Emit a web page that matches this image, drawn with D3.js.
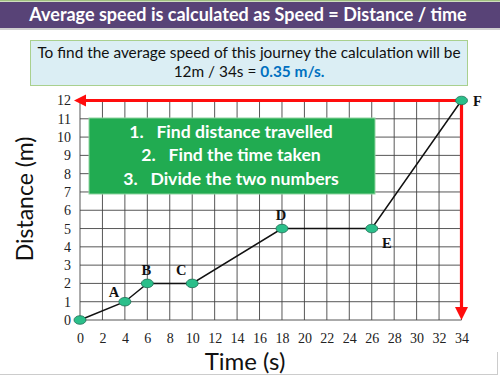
<!DOCTYPE html>
<html><head><meta charset="utf-8">
<script src="https://cdn.jsdelivr.net/npm/d3@7"></script>
<style>body{margin:0;background:#fff}svg{display:block}</style>
</head><body>
<script>
const times = [0, 4, 6, 10, 18, 26, 34];
const distances = [0, 1, 2, 2, 5, 5, 12];
const pointLabels = ["", "A", "B", "C", "D", "E", "F"];
const xTicks = d3.range(0, 35, 2);
const yTicks = d3.range(0, 13, 1);
const steps = ["1.   Find distance travelled", "2.   Find the time taken", "3.   Divide the two numbers"];

const W = 500, H = 377;
const svg = d3.select("body").append("svg").attr("width", W).attr("height", H);
const sans = "Lato, 'Open Sans', sans-serif";
const serif = "'Liberation Serif', 'DejaVu Serif', serif";

// frame lines
svg.append("rect").attr("x", 0).attr("y", 0).attr("width", W).attr("height", 1.5).attr("fill", "#9fbf80");
svg.append("line").attr("x1", 0).attr("x2", 498).attr("y1", 374.5).attr("y2", 374.5).attr("stroke", "#ccc");
svg.append("line").attr("x1", 497.5).attr("x2", 497.5).attr("y1", 352).attr("y2", 375).attr("stroke", "#ccc");

// title banner
svg.append("rect").attr("x", 0).attr("y", 28).attr("width", W).attr("height", 2).attr("fill", "#cfcfcf");
svg.append("rect").attr("x", 0).attr("y", 2).attr("width", W).attr("height", 26).attr("fill", "#584377");
svg.append("text").attr("x", 248).attr("y", 20.5).attr("text-anchor", "middle")
  .attr("font-family", sans).attr("font-weight", "bold").attr("font-size", 18).attr("fill", "#fff")
  .text("Average speed is calculated as Speed = Distance / time");

// info box
svg.append("rect").attr("x", 30.5).attr("y", 40.5).attr("width", 437).attr("height", 45)
  .attr("fill", "#dbeef4").attr("stroke", "#a9d08e").attr("stroke-width", 1);
svg.append("text").attr("x", 249).attr("y", 58).attr("text-anchor", "middle")
  .attr("font-family", sans).attr("font-size", 15.4).attr("fill", "#111")
  .text("To find the average speed of this journey the calculation will be");
const t2 = svg.append("text").attr("x", 249).attr("y", 77).attr("text-anchor", "middle")
  .attr("font-family", sans).attr("font-size", 15.4).attr("fill", "#111");
t2.append("tspan").text("12m / 34s = ");
t2.append("tspan").attr("fill", "#0070c0").attr("font-weight", "bold").text("0.35 m/s.");

// scales
const x = d3.scaleLinear().domain([0, 34]).range([80, 461.5]);
const y = d3.scaleLinear().domain([0, 12]).range([320, 100.5]);

// grid
const g = svg.append("g");
g.selectAll("line.v").data(xTicks).join("line")
  .attr("x1", d => x(d)).attr("x2", d => x(d)).attr("y1", y(12)).attr("y2", y(0))
  .attr("stroke", "#444").attr("stroke-width", 0.9);
g.selectAll("line.h").data(yTicks).join("line")
  .attr("x1", x(0)).attr("x2", x(34)).attr("y1", d => y(d)).attr("y2", d => y(d))
  .attr("stroke", "#444").attr("stroke-width", 0.9);

// axes tick labels
const xAxis = svg.append("g").attr("transform", `translate(0,${y(0)})`)
  .call(d3.axisBottom(x).tickValues(xTicks).tickSize(0).tickPadding(13));
xAxis.select(".domain").remove();
xAxis.selectAll("text").attr("font-family", serif).attr("font-size", 14).attr("fill", "#222");
const yAxis = svg.append("g").attr("transform", `translate(${x(0)},0)`)
  .call(d3.axisLeft(y).tickValues(yTicks).tickSize(0).tickPadding(9));
yAxis.select(".domain").remove();
yAxis.selectAll("text").attr("font-family", serif).attr("font-size", 14).attr("fill", "#222");

// axis titles
svg.append("text").attr("x", 245).attr("y", 370).attr("text-anchor", "middle")
  .attr("font-family", sans).attr("font-size", 24).attr("fill", "#111").text("Time (s)");
svg.append("text").attr("transform", "translate(33,199) rotate(-90)").attr("text-anchor", "middle")
  .attr("font-family", sans).attr("font-size", 23).attr("fill", "#111").text("Distance (m)");

// data line
const pts = times.map((t, i) => ({t, d: distances[i], l: pointLabels[i]}));
svg.append("path").datum(pts)
  .attr("d", d3.line().x(p => x(p.t)).y(p => y(p.d)))
  .attr("fill", "none").attr("stroke", "#111").attr("stroke-width", 1.5);

// green steps box
svg.append("rect").attr("x", 89).attr("y", 118).attr("width", 286).attr("height", 76)
  .attr("fill", "#21ab51").attr("stroke", "#8fd3a0").attr("stroke-width", 1);
const stepY = [137.5, 161, 184.5];
steps.forEach((s, i) => {
  svg.append("text").attr("x", 231).attr("y", stepY[i]).attr("text-anchor", "middle")
    .attr("font-family", sans).attr("font-weight", "bold").attr("font-size", 17.6).attr("fill", "#fff")
    .attr("xml:space", "preserve").style("white-space", "pre").text(s);
});

// red arrows
const red = "#ff0d0d";
svg.append("line").attr("x1", x(34)).attr("x2", 84).attr("y1", y(12)).attr("y2", y(12))
  .attr("stroke", red).attr("stroke-width", 3.2);
svg.append("path").attr("d", `M74,${y(12)} L86,${y(12) - 6} L86,${y(12) + 6} Z`).attr("fill", red);
svg.append("line").attr("x1", x(34)).attr("x2", x(34)).attr("y1", y(12)).attr("y2", 308)
  .attr("stroke", red).attr("stroke-width", 3.2);
svg.append("path").attr("d", `M${x(34)},${y(0)} L${x(34) - 6.5},${y(0) - 13} L${x(34) + 6.5},${y(0) - 13} Z`).attr("fill", red);

// points
svg.selectAll("ellipse.pt").data(pts).join("ellipse")
  .attr("cx", p => x(p.t)).attr("cy", p => y(p.d)).attr("rx", 6).attr("ry", 4.3)
  .attr("fill", "#2bbf8a").attr("stroke", "#1f6f55").attr("stroke-width", 0.8);

// point labels
const offs = {A: [-11, -5], B: [-1, -8], C: [-11, -8], D: [-1, -9], E: [15, 19], F: [16, 5]};
svg.selectAll("text.pl").data(pts.filter(p => p.l)).join("text")
  .attr("x", p => x(p.t) + offs[p.l][0]).attr("y", p => y(p.d) + offs[p.l][1])
  .attr("text-anchor", "middle").attr("font-family", serif).attr("font-weight", "bold")
  .attr("font-size", 14.5).attr("fill", "#111").text(p => p.l);
</script>
</body></html>
